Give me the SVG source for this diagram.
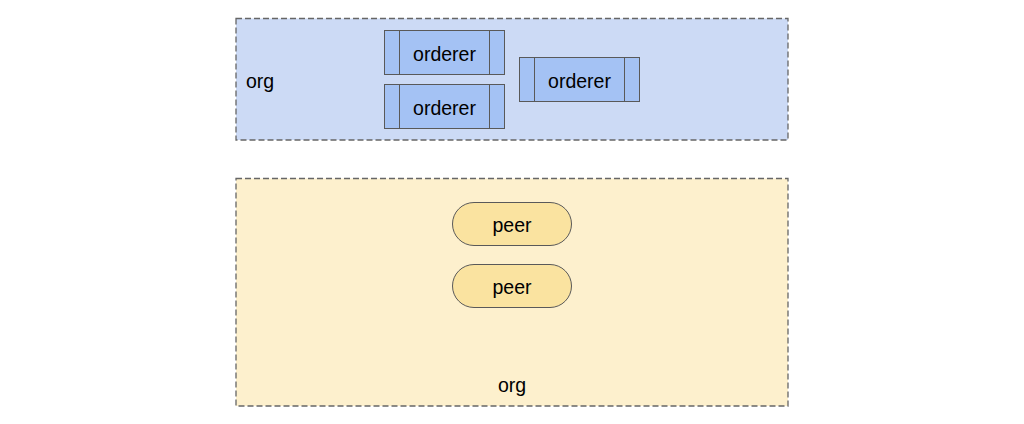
<svg xmlns="http://www.w3.org/2000/svg" width="1024" height="424" viewBox="0 0 1024 424">
<style>
.org{stroke:#666;stroke-width:1.3;stroke-dasharray:6,3}
.ord{fill:#a4c2f4;stroke:#595959;stroke-width:1}
.peer{fill:#fae3a0;stroke:#595959;stroke-width:1}
text{font-family:"Liberation Sans",Arial,sans-serif;font-size:19.5px;fill:#000}
.c{text-anchor:middle}
</style>
<rect width="1024" height="424" fill="#fff"/>
<g id="org-top">
<rect class="org" x="236" y="18.5" width="552" height="121.5" fill="#ccdaf5"/>
<text x="246" y="88">org</text>
</g>
<g id="orderer1">
<rect class="ord" x="384.5" y="30.5" width="120" height="44"/>
<line x1="399.5" y1="30.5" x2="399.5" y2="74.5" stroke="#595959"/>
<line x1="489.5" y1="30.5" x2="489.5" y2="74.5" stroke="#595959"/>
<text class="c" x="444.5" y="61">orderer</text>
</g>
<g id="orderer2">
<rect class="ord" x="384.5" y="84.5" width="120" height="44"/>
<line x1="399.5" y1="84.5" x2="399.5" y2="128.5" stroke="#595959"/>
<line x1="489.5" y1="84.5" x2="489.5" y2="128.5" stroke="#595959"/>
<text class="c" x="444.5" y="115">orderer</text>
</g>
<g id="orderer3">
<rect class="ord" x="519.5" y="57.5" width="120" height="44"/>
<line x1="534.5" y1="57.5" x2="534.5" y2="101.5" stroke="#595959"/>
<line x1="624.5" y1="57.5" x2="624.5" y2="101.5" stroke="#595959"/>
<text class="c" x="579.5" y="88">orderer</text>
</g>
<g id="org-bottom">
<rect class="org" x="236" y="178.5" width="552" height="227.5" fill="#fdf0cd"/>
<text class="c" x="512" y="392">org</text>
</g>
<g id="peer1">
<rect class="peer" x="452.5" y="202.5" width="119" height="43" rx="21.5"/>
<text class="c" x="512" y="232">peer</text>
</g>
<g id="peer2">
<rect class="peer" x="452.5" y="264.5" width="119" height="43" rx="21.5"/>
<text class="c" x="512" y="294">peer</text>
</g>
<g id="connectors"></g>
</svg>
